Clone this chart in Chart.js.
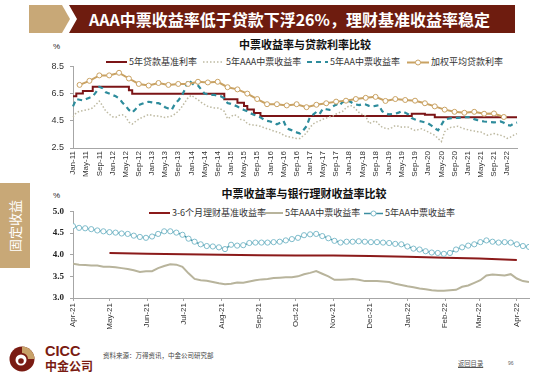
<!DOCTYPE html>
<html><head><meta charset="utf-8">
<script src="https://cdn.jsdelivr.net/npm/chart.js@4.4.1/dist/chart.umd.min.js"></script>
<style>
body{margin:0;width:550px;height:384px;background:#fff;position:relative;overflow:hidden;font-family:"Noto Sans CJK SC","Noto Sans",sans-serif;}
.abs{position:absolute;white-space:nowrap;}
#title{left:89px;top:7px;color:#fff;font-weight:bold;font-size:16px;line-height:24px;}
.ctitle{font-weight:bold;font-size:11px;color:#111;line-height:14px;transform:translateX(-50%);}
.pct{font-size:8px;color:#222;font-family:"Liberation Sans",sans-serif;line-height:10px;}
.lg{display:flex;align-items:center;font-size:9px;color:#333;line-height:12px;}
.lg svg{margin-right:2px;}
#side{left:0;top:183px;width:30px;height:85px;background:#C8A877;}
#sidetxt{left:15px;top:226px;color:#fff;font-size:13px;line-height:14px;transform:translate(-50%,-50%) rotate(-90deg);}
canvas{position:absolute;left:0;}
</style></head><body>
<svg class="abs" style="left:0;top:0" width="550" height="40">
  <polygon points="29,5 62,5 70,19 62,33 29,33" fill="#C8A877"/>
  <polygon points="69,5 515,5 515,33 69,33 77,19" fill="#6E1C0F"/>
</svg>
<div class="abs" id="title">AAA中票收益率低于贷款下浮26%，理财基准收益率稳定</div>
<div class="abs" id="side"></div>
<div class="abs" id="sidetxt">固定收益</div>

<div class="abs ctitle" style="left:305px;top:37px;">中票收益率与贷款利率比较</div>
<div class="abs pct" style="left:53px;top:42px;">%</div>
<div class="abs lg" style="left:106px;top:56px;"><svg width="21" height="6"><line x1="0" y1="3" x2="21" y2="3" stroke="#7B1416" stroke-width="2"/></svg>5年贷款基准利率</div>
<div class="abs lg" style="left:203px;top:56px;"><svg width="21" height="6"><line x1="0" y1="3" x2="21" y2="3" stroke="#BEBAA2" stroke-width="1.5" stroke-dasharray="1.5 2"/></svg>5年AAA中票收益率</div>
<div class="abs lg" style="left:307px;top:56px;"><svg width="21" height="6"><line x1="0" y1="3" x2="21" y2="3" stroke="#2E8C9C" stroke-width="2" stroke-dasharray="5 4"/></svg>5年AA中票收益率</div>
<div class="abs lg" style="left:407px;top:56px;"><svg width="22" height="7"><line x1="0" y1="3.5" x2="22" y2="3.5" stroke="#C9A263" stroke-width="2"/><circle cx="11" cy="3.5" r="2.5" fill="#fff" stroke="#C9A263" stroke-width="1"/></svg>加权平均贷款利率</div>

<div class="abs ctitle" style="left:304px;top:186px;">中票收益率与银行理财收益率比较</div>
<div class="abs pct" style="left:53px;top:191px;">%</div>
<div class="abs lg" style="left:149px;top:207px;"><svg width="21" height="6"><line x1="0" y1="3" x2="21" y2="3" stroke="#8B1A1A" stroke-width="2"/></svg>3-6个月理财基准收益率</div>
<div class="abs lg" style="left:265px;top:207px;"><svg width="18" height="6"><line x1="0" y1="3" x2="18" y2="3" stroke="#B8B49C" stroke-width="2"/></svg>5年AAA中票收益率</div>
<div class="abs lg" style="left:364px;top:207px;"><svg width="19" height="7"><line x1="0" y1="3.5" x2="19" y2="3.5" stroke="#3B8EA0" stroke-width="1.5"/><circle cx="9.5" cy="3.5" r="2.5" fill="#fff" stroke="#7FBCCB" stroke-width="1"/></svg>5年AA中票收益率</div>

<canvas id="c1" width="550" height="135" style="top:55px"></canvas>
<canvas id="c2" width="550" height="140" style="top:200px"></canvas>

<svg class="abs" style="left:0;top:340px" width="40" height="40">
  <circle cx="22" cy="19" r="12.5" fill="#7A1B12"/>
  <path d="M22,6.5 A12.5,12.5 0 0 1 34.5,19 L28,19 A6,6 0 0 0 22,13 Z" fill="#C8A269"/>
  <circle cx="21" cy="20" r="5.5" fill="#fff"/>
  <circle cx="21" cy="21" r="2.8" fill="#7A1B12"/>
</svg>
<div class="abs" style="left:45px;top:343px;font-family:'Liberation Sans',sans-serif;font-weight:bold;font-size:14.5px;line-height:16px;color:#7A1B12;">CICC</div>
<div class="abs" style="left:45px;top:358px;font-weight:bold;font-size:12px;line-height:15px;color:#7A1B12;">中金公司</div>
<div class="abs" style="left:103px;top:351px;font-size:6.5px;line-height:8px;color:#444;">资料来源：万得资讯，中金公司研究部</div>
<div class="abs" style="left:458px;top:360px;font-size:6.3px;line-height:8px;color:#555;text-decoration:underline;">返回目录</div>
<div class="abs" style="left:508px;top:360px;font-size:5px;line-height:7px;color:#666;font-family:'Liberation Sans',sans-serif;">96</div>

<script>
// ---------- Chart 1: monthly, Jan-11 .. Apr-22 ----------
const monthNames = ['Jan','Feb','Mar','Apr','May','Jun','Jul','Aug','Sep','Oct','Nov','Dec'];
const months1 = [];
for (let y = 11; y <= 22; y++) for (let m = 0; m < 12; m++) { if (y === 22 && m > 3) break; months1.push(monthNames[m] + '-' + y); }
const yTicks1 = [2.5, 3.5, 4.5, 5.5, 6.5, 7.5, 8.5];

const loanRate = [
 6.3, 6.5, 6.5, 6.7, 6.7, 6.7, 7.0, 7.0, 7.0, 7.0,
 7.0, 7.0, 7.0, 7.0, 7.0, 7.0, 7.0, 6.75, 6.48, 6.48,
 6.48, 6.48, 6.48, 6.48, 6.48, 6.48, 6.48, 6.48, 6.48, 6.48,
 6.48, 6.48, 6.48, 6.48, 6.48, 6.48, 6.48, 6.48, 6.48, 6.48,
 6.48, 6.48, 6.48, 6.48, 6.48, 6.48, 6.08, 6.08, 6.08, 6.08,
 5.83, 5.83, 5.58, 5.33, 5.33, 5.08, 5.08, 4.85, 4.85, 4.85,
 4.85, 4.85, 4.85, 4.85, 4.85, 4.85, 4.85, 4.85, 4.85, 4.85,
 4.85, 4.85, 4.85, 4.85, 4.85, 4.85, 4.85, 4.85, 4.85, 4.85,
 4.85, 4.85, 4.85, 4.85, 4.85, 4.85, 4.85, 4.85, 4.85, 4.85,
 4.85, 4.85, 4.85, 4.85, 4.85, 4.85, 4.85, 4.85, 4.85, 4.85,
 4.85, 4.85, 4.85, 5.02, 5.02, 5.02, 5.02, 4.95, 4.95, 4.95,
 4.76, 4.76, 4.76, 4.76, 4.76, 4.76, 4.76, 4.76, 4.76, 4.76,
 4.76, 4.76, 4.76, 4.76, 4.76, 4.76, 4.76, 4.76, 4.76, 4.76,
 4.76, 4.76, 4.76, 4.76, 4.76, 4.76];

const aaaYield = [
 4.78, 5.1, 5.2, 5.25, 5.3, 5.35, 5.45, 5.7, 5.95, 5.6,
 5.2, 5.0, 4.8, 4.75, 4.9, 4.95, 4.8, 4.4, 4.26, 4.45,
 4.62, 4.75, 4.85, 4.97, 4.9, 4.85, 4.85, 4.8, 4.74, 4.8,
 4.85, 5.0, 5.2, 5.5, 5.85, 6.2, 6.38, 6.2, 6.05, 5.85,
 5.7, 5.56, 5.5, 5.45, 5.44, 5.35, 5.2, 4.65, 4.8, 4.95,
 4.85, 4.6, 4.55, 4.3, 4.2, 4.2, 4.15, 4.1, 4.0, 3.91,
 3.85, 3.75, 3.68, 3.6, 3.45, 3.35, 3.3, 3.25, 3.2, 3.2,
 3.4, 3.6, 4.0, 4.26, 4.4, 4.5, 4.62, 4.7, 4.8, 4.85,
 5.0, 5.1, 5.2, 5.45, 5.6, 5.6, 5.35, 5.1, 4.95, 4.85,
 4.3, 4.4, 4.5, 4.25, 4.03, 3.95, 3.91, 4.0, 4.15, 4.1,
 4.03, 4.05, 4.03, 3.9, 3.79, 3.85, 3.91, 3.8, 3.68, 3.55,
 3.44, 3.2, 2.97, 3.7, 3.9, 4.03, 4.05, 4.1, 4.0, 3.91,
 3.85, 3.79, 3.75, 3.7, 3.68, 3.55, 3.44, 3.5, 3.56, 3.5,
 3.44, 3.35, 3.21, 3.3, 3.45, 3.56];

const aaYield = [
 5.56, 6.1, 6.05, 6.0, 6.1, 6.2, 6.3, 6.6, 7.0, 6.9,
 6.6, 6.5, 6.4, 6.3, 6.15, 5.85, 5.6, 5.3, 5.1, 5.35,
 5.65, 5.75, 5.85, 5.9, 5.85, 5.8, 5.8, 5.7, 5.5, 5.4,
 5.3, 5.75, 6.0, 6.3, 6.8, 7.5, 7.3, 7.1, 7.1, 6.8,
 6.5, 6.45, 6.4, 6.4, 6.35, 6.3, 6.15, 5.8, 5.75, 5.65,
 5.55, 5.4, 5.3, 5.2, 5.05, 4.95, 4.85, 4.75, 4.6, 4.5,
 4.45, 4.35, 4.25, 4.35, 4.5, 3.95, 3.85, 3.75, 3.65, 3.56,
 3.8, 4.1, 4.75, 4.95, 5.15, 5.0, 5.4, 5.35, 5.3, 5.55,
 5.7, 5.6, 5.9, 5.85, 5.95, 5.8, 5.7, 5.65, 5.72, 5.7,
 5.6, 5.55, 5.6, 5.65, 5.2, 5.05, 4.97, 5.0, 5.02, 5.1,
 5.2, 5.1, 4.97, 4.7, 4.6, 4.5, 4.45, 4.38, 4.3, 4.15,
 3.95, 3.8, 4.2, 4.6, 4.65, 4.7, 4.7, 4.72, 4.74, 4.76,
 4.78, 4.75, 4.62, 4.55, 4.5, 4.45, 4.43, 4.4, 4.38, 4.4,
 4.45, 4.35, 4.2, 4.15, 4.3, 4.38];

// quarterly (Mar-11 .. Dec-21)
const weightedQ = [
 7.14, 7.44, 7.84, 7.84, 8.03, 7.61, 7.21, 7.09, 7.28, 7.14, 7.21, 7.21,
 7.37, 7.32, 7.37, 6.97, 6.81, 6.5, 6.1, 5.72, 5.72, 5.63, 5.72, 5.5,
 5.68, 5.79, 5.91, 5.98, 6.1, 6.19, 6.26, 5.96, 6.1, 6.03, 5.98, 5.79,
 5.56, 5.32, 5.16, 5.09, 5.16, 5.02, 5.04, 4.78];
const weightedSeries = months1.map((_, i) => ((i - 2) % 3 === 0 && (i - 2) / 3 < weightedQ.length) ? weightedQ[(i - 2) / 3] : null);

// ---------- Chart 2: days since 2021-04-01 ----------
const monthTicks2 = [0, 30, 61, 91, 122, 153, 183, 214, 244, 275, 306, 334, 365];
const monthLabels2 = ['Apr-21','May-21','Jun-21','Jul-21','Aug-21','Sep-21','Oct-21','Nov-21','Dec-21','Jan-22','Feb-22','Mar-22','Apr-22'];
const days2 = [0,5,10,15,20,25,30,35,40,45,50,55,60,65,70,75,80,85,90,95,100,105,110,115,120,125,130,135,140,145,
 150,155,160,165,170,175,180,185,190,195,200,205,210,215,220,225,230,235,240,245,250,255,260,265,270,275,280,285,290,295,
 300,305,310,315,320,325,330,335,340,345,350,355,360,365,370,375];
const aa2 = [
 4.66, 4.62, 4.61, 4.59, 4.56, 4.54, 4.52, 4.51, 4.49, 4.48,
 4.44, 4.41, 4.39, 4.42, 4.48, 4.54, 4.54, 4.51, 4.46, 4.37,
 4.30, 4.24, 4.20, 4.19, 4.17, 4.13, 4.23, 4.21, 4.22, 4.27,
 4.28, 4.28, 4.28, 4.29, 4.30, 4.33, 4.36, 4.39, 4.45, 4.47,
 4.48, 4.43, 4.38, 4.32, 4.28, 4.30, 4.30, 4.31, 4.30, 4.29,
 4.29, 4.28, 4.27, 4.25, 4.24, 4.19, 4.14, 4.12, 4.08, 4.05,
 4.04, 4.02, 4.04, 4.12, 4.17, 4.21, 4.24, 4.29, 4.33, 4.30,
 4.28, 4.29, 4.28, 4.24, 4.20, 4.18];
const aaa2 = [
 3.79, 3.77, 3.76, 3.75, 3.75, 3.72, 3.72, 3.71, 3.69, 3.67,
 3.64, 3.60, 3.62, 3.62, 3.69, 3.74, 3.78, 3.77, 3.72, 3.57,
 3.44, 3.41, 3.40, 3.37, 3.34, 3.32, 3.33, 3.36, 3.35, 3.38,
 3.41, 3.43, 3.44, 3.46, 3.47, 3.48, 3.48, 3.50, 3.55, 3.58,
 3.62, 3.56, 3.50, 3.42, 3.42, 3.43, 3.44, 3.42, 3.39, 3.39,
 3.39, 3.38, 3.37, 3.33, 3.30, 3.27, 3.25, 3.22, 3.20, 3.18,
 3.17, 3.17, 3.18, 3.19, 3.26, 3.29, 3.35, 3.41, 3.52, 3.54,
 3.53, 3.52, 3.55, 3.45, 3.39, 3.37];
const wmDays = [30, 61, 91, 122, 153, 183, 214, 244, 275, 306, 334, 365];
const wmRate = [4.04, 4.02, 4.01, 4.00, 3.99, 3.98, 3.98, 3.97, 3.95, 3.93, 3.91, 3.88];

const axisColor = '#A6A6A6';

new Chart(document.getElementById('c1'), {
  type: 'line',
  data: {
    labels: months1,
    datasets: [
      {label: '5年贷款基准利率', data: loanRate, borderColor: '#7B1416', borderWidth: 2, stepped: true, pointRadius: 0, order: 4},
      {label: '5年AAA中票收益率', data: aaaYield, borderColor: '#BEBAA2', borderWidth: 1.5, borderDash: [1.5, 2], pointRadius: 0, order: 3},
      {label: '5年AA中票收益率', data: aaYield, borderColor: '#2E8C9C', borderWidth: 2.2, borderDash: [5, 4], pointRadius: 0, order: 2},
      {label: '加权平均贷款利率', data: weightedSeries, spanGaps: true, borderColor: '#C9A263', borderWidth: 2, pointRadius: 2.5, pointBackgroundColor: '#fff', pointBorderColor: '#C9A263', pointBorderWidth: 1, order: 1}
    ]
  },
  options: {
    responsive: false, animation: false, devicePixelRatio: 1,
    layout: {padding: {top: 8, right: 33, left: 0, bottom: 0}},
    plugins: {legend: {display: false}, tooltip: {enabled: false}},
    scales: {
      x: {
        type: 'category', offset: false,
        grid: {display: false, drawTicks: false},
        border: {display: true, color: axisColor},
        ticks: {autoSkip: false, maxRotation: 90, minRotation: 90, padding: 3, color: '#333',
          font: {size: 8, family: 'Liberation Sans'},
          callback: function (v, i) { return i % 4 === 0 ? this.getLabelForValue(v) : ''; }},
        afterFit: s => { s.height = 42; }
      },
      y: {
        min: 2.5, max: 8.5,
        afterBuildTicks: s => { s.ticks = yTicks1.map(v => ({value: v})); },
        grid: {display: true, drawOnChartArea: false, tickLength: 3, color: axisColor},
        border: {display: true, color: axisColor},
        ticks: {padding: 6, color: '#333', font: {size: 9, family: 'Liberation Sans'}, callback: v => Number(v).toFixed(1)},
        afterFit: s => { s.width = 73; }
      }
    }
  }
});

new Chart(document.getElementById('c2'), {
  type: 'line',
  data: {
    datasets: [
      {label: '3-6个月理财基准收益率', data: wmDays.map((d, i) => ({x: d, y: wmRate[i]})), borderColor: '#8B1A1A', borderWidth: 2, pointRadius: 0, order: 3},
      {label: '5年AAA中票收益率', data: days2.map((d, i) => ({x: d, y: aaa2[i]})), borderColor: '#B8B49C', borderWidth: 2, pointRadius: 0, order: 2},
      {label: '5年AA中票收益率', data: days2.map((d, i) => ({x: d, y: aa2[i]})), borderColor: '#3B8EA0', borderWidth: 1.5, pointRadius: 2.6, pointBackgroundColor: '#fff', pointBorderColor: '#7FBCCB', pointBorderWidth: 1, order: 1}
    ]
  },
  options: {
    responsive: false, animation: false, devicePixelRatio: 1,
    layout: {padding: {top: 10, right: 21, left: 0, bottom: 0}},
    plugins: {legend: {display: false}, tooltip: {enabled: false}},
    scales: {
      x: {
        type: 'linear', min: 0, max: 375,
        afterBuildTicks: s => { s.ticks = monthTicks2.map(v => ({value: v})); },
        grid: {display: true, drawOnChartArea: false, tickLength: 3, color: axisColor},
        border: {display: true, color: axisColor},
        ticks: {autoSkip: false, maxRotation: 90, minRotation: 90, padding: 2, color: '#333',
          font: {size: 8, family: 'Liberation Sans'},
          callback: v => { const k = monthTicks2.indexOf(v); return k >= 0 ? monthLabels2[k] : ''; }},
        afterFit: s => { s.height = 42; }
      },
      y: {
        min: 3, max: 5,
        ticks: {stepSize: 0.5, padding: 6, color: '#222', font: {size: 9, family: 'Liberation Serif', weight: 'bold'}, callback: v => Number(v).toFixed(1)},
        grid: {display: true, drawOnChartArea: false, tickLength: 3, color: axisColor},
        border: {display: true, color: axisColor},
        afterFit: s => { s.width = 73; }
      }
    }
  }
});
</script>
</body></html>
